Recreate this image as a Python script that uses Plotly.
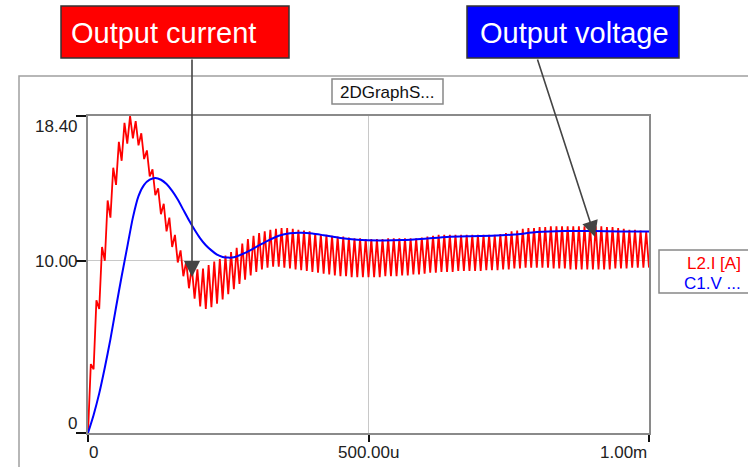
import plotly.graph_objects as go

# ---------------- data (time in ms) ----------------
red_peak_t = [
    0.005, 0.015, 0.025, 0.035, 0.045, 0.055, 0.065, 0.075, 0.085, 0.095,
    0.105, 0.115, 0.125, 0.135, 0.145, 0.155, 0.165, 0.175, 0.185, 0.195,
    0.205, 0.215, 0.225, 0.235, 0.245, 0.255, 0.265, 0.275, 0.285, 0.295,
    0.305, 0.315, 0.325, 0.335, 0.345, 0.355, 0.365, 0.375, 0.385, 0.395,
    0.405, 0.415, 0.425, 0.435, 0.445, 0.455, 0.465, 0.475, 0.485, 0.495,
    0.505, 0.515, 0.525, 0.535, 0.545, 0.555, 0.565, 0.575, 0.585, 0.595,
    0.605, 0.615, 0.625, 0.635, 0.645, 0.655, 0.665, 0.675, 0.685, 0.695,
    0.705, 0.715, 0.725, 0.735, 0.745, 0.755, 0.765, 0.775, 0.785, 0.795,
    0.805, 0.815, 0.825, 0.835, 0.845, 0.855, 0.865, 0.875, 0.885, 0.895,
    0.905, 0.915, 0.925, 0.935, 0.945, 0.955, 0.965, 0.975, 0.985, 0.995,
]
red_peak_i = [
    4.0, 7.7, 10.8, 13.5, 15.4, 16.9, 18.0, 18.4, 18.1, 17.4,
    16.4, 15.3, 14.2, 13.3, 12.5, 11.5, 10.6, 9.95, 9.65, 9.5,
    9.55, 9.75, 9.95, 10.1, 10.3, 10.5, 10.75, 11.0, 11.25, 11.45,
    11.6, 11.7, 11.8, 11.85, 11.9, 11.9, 11.85, 11.8, 11.75, 11.7,
    11.6, 11.55, 11.5, 11.45, 11.4, 11.4, 11.35, 11.3, 11.3, 11.25,
    11.25, 11.25, 11.25, 11.3, 11.3, 11.3, 11.3, 11.3, 11.3, 11.35,
    11.4, 11.45, 11.5, 11.5, 11.5, 11.5, 11.5, 11.5, 11.5, 11.5,
    11.5, 11.5, 11.5, 11.55, 11.6, 11.7, 11.75, 11.85, 11.9, 11.9,
    11.95, 11.95, 12.0, 12.0, 12.0, 12.0, 12.0, 12.0, 12.0, 12.0,
    12.0, 12.0, 11.95, 11.95, 11.9, 11.85, 11.8, 11.8, 11.75, 11.7,
]
red_valley_t = [
    0.01, 0.02, 0.03, 0.04, 0.05, 0.06, 0.07, 0.08, 0.09, 0.10,
    0.11, 0.12, 0.13, 0.14, 0.15, 0.16, 0.17, 0.18, 0.19, 0.20,
    0.21, 0.22, 0.23, 0.24, 0.25, 0.26, 0.27, 0.28, 0.29, 0.30,
    0.31, 0.32, 0.33, 0.34, 0.35, 0.36, 0.37, 0.38, 0.39, 0.40,
    0.41, 0.42, 0.43, 0.44, 0.45, 0.46, 0.47, 0.48, 0.49, 0.50,
    0.51, 0.52, 0.53, 0.54, 0.55, 0.56, 0.57, 0.58, 0.59, 0.60,
    0.61, 0.62, 0.63, 0.64, 0.65, 0.66, 0.67, 0.68, 0.69, 0.70,
    0.71, 0.72, 0.73, 0.74, 0.75, 0.76, 0.77, 0.78, 0.79, 0.80,
    0.81, 0.82, 0.83, 0.84, 0.85, 0.86, 0.87, 0.88, 0.89, 0.90,
    0.91, 0.92, 0.93, 0.94, 0.95, 0.96, 0.97, 0.98, 0.99, 1.00,
]
red_valley_i = [
    3.7, 7.2, 10.0, 12.5, 14.4, 15.8, 16.8, 17.1, 16.7, 15.9,
    14.9, 13.8, 12.7, 11.7, 10.8, 9.9, 9.1, 8.4, 7.8, 7.35,
    7.2, 7.3, 7.5, 7.75, 8.05, 8.35, 8.65, 8.9, 9.15, 9.35,
    9.5, 9.6, 9.65, 9.65, 9.6, 9.55, 9.5, 9.45, 9.4, 9.35,
    9.3, 9.25, 9.2, 9.15, 9.1, 9.1, 9.05, 9.05, 9.05, 9.05,
    9.05, 9.05, 9.1, 9.1, 9.1, 9.15, 9.15, 9.2, 9.2, 9.25,
    9.3, 9.3, 9.35, 9.35, 9.35, 9.4, 9.4, 9.4, 9.4, 9.4,
    9.45, 9.45, 9.45, 9.5, 9.5, 9.55, 9.55, 9.6, 9.6, 9.6,
    9.6, 9.6, 9.55, 9.55, 9.55, 9.5, 9.5, 9.5, 9.5, 9.5,
    9.5, 9.5, 9.5, 9.55, 9.55, 9.55, 9.6, 9.6, 9.6, 9.6,
]

blue_t = [0, 0.01, 0.02, 0.03, 0.04, 0.05, 0.06, 0.07, 0.08, 0.09, 0.10,
          0.11, 0.12, 0.13, 0.14, 0.15, 0.16, 0.17, 0.18, 0.19, 0.20,
          0.21, 0.22, 0.23, 0.24, 0.25, 0.26, 0.28, 0.30, 0.32, 0.34,
          0.36, 0.38, 0.40, 0.42, 0.45, 0.48, 0.52, 0.56, 0.60, 0.64,
          0.68, 0.72, 0.76, 0.80, 0.85, 0.90, 0.95, 1.00]
blue_v = [0, 1.05, 2.3, 3.8, 5.45, 7.3, 9.1, 10.8, 12.5, 13.75, 14.4,
          14.7, 14.8, 14.7, 14.45, 14.05, 13.55, 12.95, 12.35, 11.8, 11.3,
          10.9, 10.6, 10.35, 10.22, 10.18, 10.2, 10.45, 10.8, 11.15, 11.45,
          11.6, 11.62, 11.58, 11.48, 11.32, 11.22, 11.18, 11.2, 11.28, 11.38,
          11.42, 11.45, 11.52, 11.66, 11.72, 11.72, 11.7, 11.7]

x_tickvals = [0, 0.5, 1.0]
x_ticktext = ["0", "500.00u", "1.00m"]
y_tickvals = [0, 10.0, 18.4]
y_ticktext = ["0", "10.00", "18.40"]
legend_names = ["L2.I [A]", "C1.V ..."]
graph_title = "2DGraphS..."
label_current = "Output current"
label_voltage = "Output voltage"

# interleave start, peaks and valleys
red_t = [0.0]
red_i = [0.0]
for pt, pi, vt, vi in zip(red_peak_t, red_peak_i, red_valley_t, red_valley_i):
    red_t += [pt, vt]
    red_i += [pi, vi]

# ---------------- layout helpers (pixel -> paper) ----------------
W, H = 748, 467
L, R, T, B = 88, 649, 116, 433


def px(x):
    return (x - L) / (R - L)


def py(y):
    return (B - y) / (B - T)


FONT = "Liberation Sans, Arial, sans-serif"

fig = go.Figure()
fig.add_trace(go.Scatter(x=red_t, y=red_i, mode="lines", name=legend_names[0],
                         line=dict(color="#ff0000", width=1.8)))
fig.add_trace(go.Scatter(x=blue_t, y=blue_v, mode="lines", name=legend_names[1],
                         line=dict(color="#0000ff", width=2, shape="spline", smoothing=0.6)))

shapes = []
# outer frame
shapes.append(dict(type="rect", xref="paper", yref="paper",
                   x0=px(19), x1=px(800), y0=py(520), y1=py(76),
                   line=dict(color="#a0a0a0", width=1.5), layer="below"))
# title box
shapes.append(dict(type="rect", xref="paper", yref="paper",
                   x0=px(332), x1=px(443), y0=py(104), y1=py(79),
                   line=dict(color="#888888", width=1.5), fillcolor="white"))
# legend box
shapes.append(dict(type="rect", xref="paper", yref="paper",
                   x0=px(659), x1=px(800), y0=py(293), y1=py(250),
                   line=dict(color="#888888", width=1.5), fillcolor="white"))
# label boxes
shapes.append(dict(type="rect", xref="paper", yref="paper",
                   x0=px(61), x1=px(289), y0=py(58), y1=py(6),
                   line=dict(color="#333333", width=1.5), fillcolor="#ff0000"))
shapes.append(dict(type="rect", xref="paper", yref="paper",
                   x0=px(467), x1=px(679), y0=py(58), y1=py(6),
                   line=dict(color="#333333", width=1.5), fillcolor="#0000ff"))

ann = []
tick_font = dict(family=FONT, size=17, color="#222222")
# y tick labels
ann.append(dict(x=px(80), y=py(126), text=y_ticktext[2], xanchor="right", yanchor="middle"))
ann.append(dict(x=px(80), y=py(261), text=y_ticktext[1], xanchor="right", yanchor="middle"))
ann.append(dict(x=px(79), y=py(423), text=y_ticktext[0], xanchor="right", yanchor="middle"))
# x tick labels
ann.append(dict(x=px(87), y=py(452), text=x_ticktext[0], xanchor="left", yanchor="middle"))
ann.append(dict(x=px(368), y=py(452), text=x_ticktext[1], xanchor="center", yanchor="middle"))
ann.append(dict(x=px(649), y=py(452), text=x_ticktext[2], xanchor="right", yanchor="middle"))
for a in ann:
    a.update(xref="paper", yref="paper", showarrow=False, font=tick_font)

# graph title
ann.append(dict(xref="paper", yref="paper", x=px(387.5), y=py(92), text=graph_title,
                xanchor="center", yanchor="middle", showarrow=False,
                font=dict(family=FONT, size=17, color="#111111")))
# legend texts
ann.append(dict(xref="paper", yref="paper", x=px(743), y=py(263), text=legend_names[0],
                xanchor="right", yanchor="middle", showarrow=False,
                font=dict(family=FONT, size=17, color="#ff0000")))
ann.append(dict(xref="paper", yref="paper", x=px(743), y=py(283), text=legend_names[1],
                xanchor="right", yanchor="middle", showarrow=False,
                font=dict(family=FONT, size=17, color="#0000ff")))
# big labels
ann.append(dict(xref="paper", yref="paper", x=px(69), y=py(33), text=label_current,
                xanchor="left", yanchor="middle", showarrow=False,
                font=dict(family=FONT, size=29, color="white")))
ann.append(dict(xref="paper", yref="paper", x=px(478), y=py(33), text=label_voltage,
                xanchor="left", yanchor="middle", showarrow=False,
                font=dict(family=FONT, size=29, color="white")))
# arrows
ann.append(dict(xref="paper", yref="paper", x=px(192), y=py(277), ax=0, ay=58 - 277,
                text="", showarrow=True, arrowhead=2, arrowsize=2.0, arrowwidth=1.6,
                arrowcolor="#444444"))
ann.append(dict(xref="paper", yref="paper", x=px(595), y=py(237), ax=537 - 595, ay=58 - 237,
                text="", showarrow=True, arrowhead=2, arrowsize=2.0, arrowwidth=1.6,
                arrowcolor="#444444"))

fig.update_layout(
    width=W, height=H,
    margin=dict(l=L, r=W - R, t=T, b=H - B, pad=0),
    paper_bgcolor="white", plot_bgcolor="white",
    showlegend=False,
    shapes=shapes, annotations=ann,
    font=dict(family=FONT),
)
fig.update_xaxes(range=[0, 1.0], tickvals=x_tickvals, showticklabels=False,
                 ticks="outside", ticklen=7, tickwidth=1.5, tickcolor="#111111",
                 showgrid=True, gridcolor="#c8c8c8", gridwidth=1.2,
                 showline=True, mirror=True, linecolor="#8a8a8a", linewidth=1.5,
                 zeroline=False, fixedrange=True)
fig.update_yaxes(range=[0, 18.4], tickvals=y_tickvals, showticklabels=False,
                 ticks="outside", ticklen=10, tickwidth=1.5, tickcolor="#111111",
                 showgrid=True, gridcolor="#c8c8c8", gridwidth=1.2,
                 showline=True, mirror=True, linecolor="#8a8a8a", linewidth=1.5,
                 zeroline=False, fixedrange=True)

fig.write_html("out.html", config=dict(displayModeBar=False))
